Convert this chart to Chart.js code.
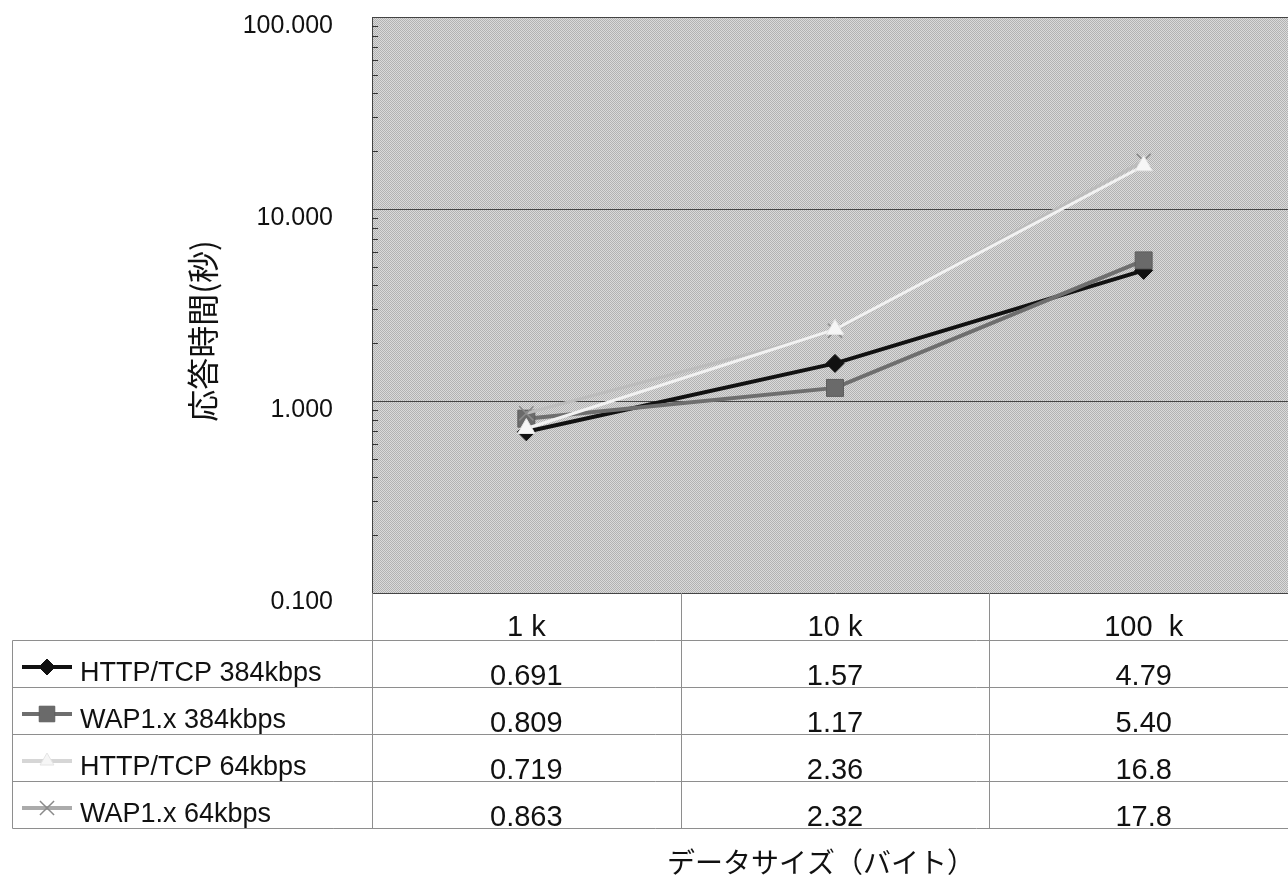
<!DOCTYPE html>
<html><head><meta charset="utf-8">
<script src="https://cdn.jsdelivr.net/npm/chart.js@4/dist/chart.umd.min.js"></script>
<style>
html,body{margin:0;padding:0;background:#fff;overflow:hidden;}
#wrap{width:1298px;height:877px;position:relative;}
canvas{display:block;}
</style>
</head><body>
<div id="wrap"><canvas id="c" width="1298" height="877"></canvas></div>
<script>
// ---- data ----
const categories = ['1 k', '10 k', '100  k'];
const seriesNames = ['HTTP/TCP 384kbps', 'WAP1.x 384kbps', 'HTTP/TCP 64kbps', 'WAP1.x 64kbps'];
const httpTcp384 = [0.691, 1.57, 4.79];
const wap384 = [0.809, 1.17, 5.40];
const httpTcp64 = [0.719, 2.36, 16.8];
const wap64 = [0.863, 2.32, 17.8];
const yTickValues = [0.1, 1, 10, 100];
const yTitle = '応答時間(秒)';
const xTitle = 'データサイズ（バイト）';

const seriesValues = [httpTcp384, wap384, httpTcp64, wap64];

// ---- styles ----
const styles = [
  {line:'#111111', width:4, point:'rectRot', r:9, fill:'#111111', stroke:'#111111', pbw:1, legendLine:'#111111', legendR:8, order:4},
  {line:'#6e6e6e', width:4, point:'rect', r:12, fill:'#6a6a6a', stroke:'#5e5e5e', pbw:1, legendLine:'#6e6e6e', legendR:11, order:3},
  {line:'#f2f2f2', width:3, point:'triangle', r:10, fill:'#f6f6f6', stroke:'#e4e4e4', pbw:1, legendLine:'#d6d6d6', legendR:8, order:1},
  {line:'#bcbcbc', width:3, point:'crossRot', r:10, fill:'#8a8a8a', stroke:'#8a8a8a', pbw:1.5, legendLine:'#ababab', legendR:10, order:2}
];

const FONT_LAT = '"Liberation Sans", Arial, sans-serif';
const FONT_JP = '"Noto Sans CJK JP", "Noto Sans", sans-serif';

// dotted gray pattern for plot area
const pc = document.createElement('canvas'); pc.width = 4; pc.height = 4;
const pctx = pc.getContext('2d');
pctx.fillStyle = '#dadada'; pctx.fillRect(0, 0, 4, 4);
pctx.fillStyle = '#b2b2b2';
for (let yy = 0; yy < 4; yy++) for (let xx = 0; xx < 4; xx++) if ((xx + yy) % 2 === 0) pctx.fillRect(xx, yy, 1, 1);
const ctxMain = document.getElementById('c').getContext('2d');
const bgPattern = ctxMain.createPattern(pc, 'repeat');

function hline(ctx, x1, x2, y) { ctx.beginPath(); ctx.moveTo(x1, y); ctx.lineTo(x2, y); ctx.stroke(); }
function vline(ctx, x, y1, y2) { ctx.beginPath(); ctx.moveTo(x, y1); ctx.lineTo(x, y2); ctx.stroke(); }

const tablePlugin = {
  id: 'tablePlugin',
  beforeDraw(chart) {
    const {ctx, chartArea: a} = chart;
    ctx.save();
    ctx.fillStyle = bgPattern;
    ctx.fillRect(a.left, a.top, a.right - a.left, a.bottom - a.top);
    ctx.restore();
  },
  afterDraw(chart) {
    const {ctx, chartArea: a} = chart;
    const xs = chart.scales.x, ys = chart.scales.y;
    ctx.save();
    // minor ticks on the value axis
    ctx.strokeStyle = '#333'; ctx.lineWidth = 1;
    for (let d = 0; d < yTickValues.length - 1; d++) {
      for (let m = 2; m <= 9; m++) {
        const v = yTickValues[d] * m;
        const py = Math.round(ys.getPixelForValue(v)) + 0.5;
        hline(ctx, a.left, a.left + 6, py);
      }
    }
    // data table
    const nCols = categories.length;
    const cw = (a.right - a.left) / nCols;
    const rowH = 47;
    const top = a.bottom;
    const nRows = seriesNames.length + 1;
    const tableLeft = 12.5;
    ctx.strokeStyle = '#8e8e8e'; ctx.lineWidth = 1;
    for (let r = 1; r <= nRows; r++) {
      const yy = Math.round(top + r * rowH) + 0.5;
      hline(ctx, tableLeft, a.right, yy);
    }
    vline(ctx, tableLeft, Math.round(top + rowH) + 0.5, Math.round(top + nRows * rowH) + 0.5);
    for (let c = 0; c <= nCols; c++) {
      const xx = Math.round(a.left + c * cw) + 0.5;
      vline(ctx, xx, top, Math.round(top + nRows * rowH) + 0.5);
    }
    // header
    ctx.fillStyle = '#111';
    ctx.textAlign = 'center'; ctx.textBaseline = 'alphabetic';
    ctx.font = '29px ' + FONT_LAT;
    categories.forEach((c, i) => ctx.fillText(c, xs.getPixelForValue(i), top + rowH - 4));
    // rows
    seriesNames.forEach((name, r) => {
      const rb = top + (r + 2) * rowH;
      const st = styles[r];
      ctx.fillStyle = '#111';
      ctx.font = '29px ' + FONT_LAT;
      ctx.textAlign = 'center';
      seriesValues[r].forEach((v, i) => ctx.fillText(v.toPrecision(3), xs.getPixelForValue(i), rb - 2));
      ctx.font = '27px ' + FONT_LAT;
      ctx.textAlign = 'left';
      ctx.fillText(name, 80, rb - 6);
      // legend symbol
      const sy = rb - 20;
      ctx.strokeStyle = st.legendLine; ctx.lineWidth = 4;
      hline(ctx, 22, 72, sy);
      ctx.fillStyle = st.fill; ctx.strokeStyle = st.stroke; ctx.lineWidth = st.pbw;
      Chart.helpers.drawPoint(ctx, {pointStyle: st.point, radius: st.legendR, borderWidth: st.pbw, rotation: 0}, 47, sy);
    });
    // axis titles
    ctx.fillStyle = '#111';
    ctx.font = '32px ' + FONT_JP;
    ctx.textAlign = 'center'; ctx.textBaseline = 'middle';
    ctx.save();
    ctx.translate(203, 331);
    ctx.rotate(-Math.PI / 2);
    ctx.fillText(yTitle, 0, 0);
    ctx.restore();
    ctx.font = '28px ' + FONT_JP;
    ctx.fillText(xTitle, 821, 862);
    ctx.restore();
  }
};

new Chart(ctxMain, {
  type: 'line',
  data: {
    labels: categories,
    datasets: seriesNames.map((name, i) => ({
      label: name,
      data: seriesValues[i],
      borderColor: styles[i].line,
      backgroundColor: styles[i].fill,
      borderWidth: styles[i].width,
      pointStyle: styles[i].point,
      pointRadius: styles[i].r,
      pointBackgroundColor: styles[i].fill,
      pointBorderColor: styles[i].stroke,
      pointBorderWidth: styles[i].pbw,
      tension: 0,
      fill: false,
      clip: false,
      order: styles[i].order
    }))
  },
  options: {
    responsive: false,
    animation: false,
    devicePixelRatio: 1,
    events: [],
    layout: {autoPadding: false, padding: {top: 17, bottom: 284, left: 0, right: 0}},
    plugins: {legend: {display: false}, tooltip: {enabled: false}, title: {display: false}},
    scales: {
      x: {
        type: 'category',
        offset: true,
        display: false,
        grid: {display: false}
      },
      y: {
        type: 'logarithmic',
        position: 'left',
        min: 0.1,
        max: 100,
        afterFit(scale) { scale.width = 372; scale.paddingTop = 0; scale.paddingBottom = 0; },
        afterBuildTicks(scale) { scale.ticks = yTickValues.map(v => ({value: v})); },
        grid: {color: '#444', lineWidth: 1, drawTicks: false},
        border: {display: true, color: '#444', width: 1},
        ticks: {
          callback: (v) => Number(v).toFixed(3),
          font: {family: '"Liberation Sans", Arial, sans-serif', size: 25},
          color: '#111',
          padding: 39,
          labelOffset: 9,
          autoSkip: false
        }
      }
    }
  },
  plugins: [tablePlugin]
});
</script>
</body></html>
